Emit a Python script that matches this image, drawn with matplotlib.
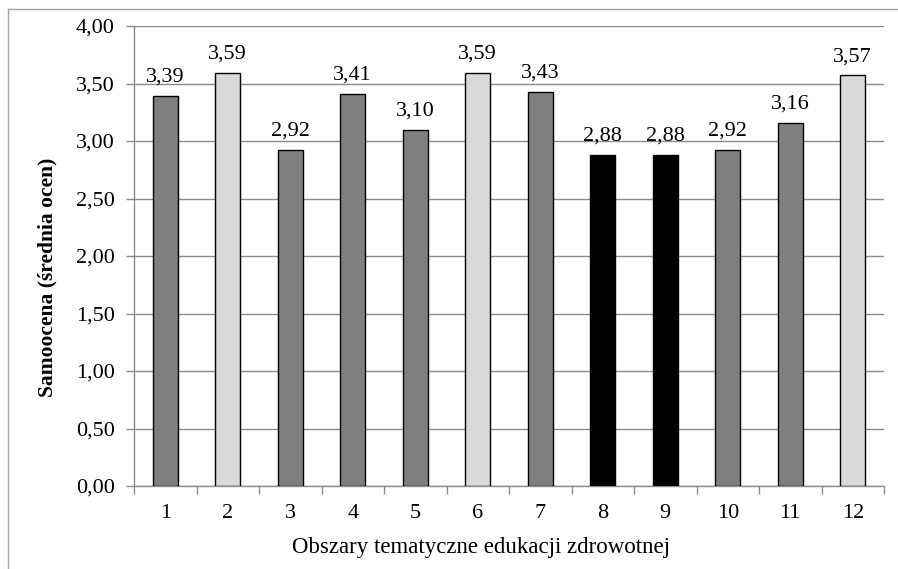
import matplotlib.pyplot as plt
from matplotlib.lines import Line2D
import numpy as np

plt.rcParams['font.family'] = ['Liberation Serif', 'DejaVu Serif']

obszary = ['1', '2', '3', '4', '5', '6', '7', '8', '9', '10', '11', '12']
srednie = [3.39, 3.59, 2.92, 3.41, 3.10, 3.59, 3.43, 2.88, 2.88, 2.92, 3.16, 3.57]
kolory = ['#7f7f7f', '#d9d9d9', '#7f7f7f', '#7f7f7f', '#7f7f7f', '#d9d9d9',
          '#7f7f7f', '#000000', '#000000', '#7f7f7f', '#7f7f7f', '#d9d9d9']

szary = '#8c8c8c'

fig = plt.figure(figsize=(8.98, 5.69), dpi=100)
ax = fig.add_axes([134 / 898, 1 - 486 / 569, (884 - 134) / 898, (486 - 26) / 569])

x = np.arange(len(obszary))
ax.bar(x, srednie, width=0.4, color=kolory, edgecolor='black', linewidth=1.0, zorder=3)

for xi, v in zip(x, srednie):
    ax.text(xi, v + 0.08, f'{v:.2f}'.replace('.', ','), ha='center', va='bottom', fontsize=16)

ax.set_xlim(-0.5, len(obszary) - 0.5)
ax.set_ylim(0, 4)
yt = np.arange(0, 4.01, 0.5)
ax.set_yticks(yt)
ax.set_yticklabels([f'{t:.2f}'.replace('.', ',') for t in yt], fontsize=16)
ax.set_xticks(x)
ax.set_xticklabels(obszary, fontsize=16)
ax.set_xticks(np.arange(-0.5, len(obszary), 1), minor=True)
ax.tick_params(axis='x', which='major', length=0, pad=13)
ax.tick_params(axis='x', which='minor', length=6, color=szary, width=1)
ax.tick_params(axis='y', length=6, color=szary, width=1, pad=8)

ax.grid(axis='y', color=szary, linewidth=1, zorder=0)
for s in ['top', 'right']:
    ax.spines[s].set_visible(False)
for s in ['left', 'bottom']:
    ax.spines[s].set_color(szary)
    ax.spines[s].set_linewidth(1)

ax.set_ylabel('Samoocena (średnia ocen)', fontsize=15.5, fontweight='bold')
ax.yaxis.set_label_coords(-0.102, 0.454)
ax.set_xlabel('Obszary tematyczne edukacji zdrowotnej', fontsize=16.5)
ax.xaxis.set_label_coords(0.463, -0.111)

# ramka wykresu (przycięta)
fig.add_artist(Line2D([8 / 898, 1], [1 - 9 / 569, 1 - 9 / 569], color='#a6a6a6', lw=1))
fig.add_artist(Line2D([8 / 898, 8 / 898], [0, 1 - 9 / 569], color='#a6a6a6', lw=1))

fig.savefig('out.png', dpi=100)
